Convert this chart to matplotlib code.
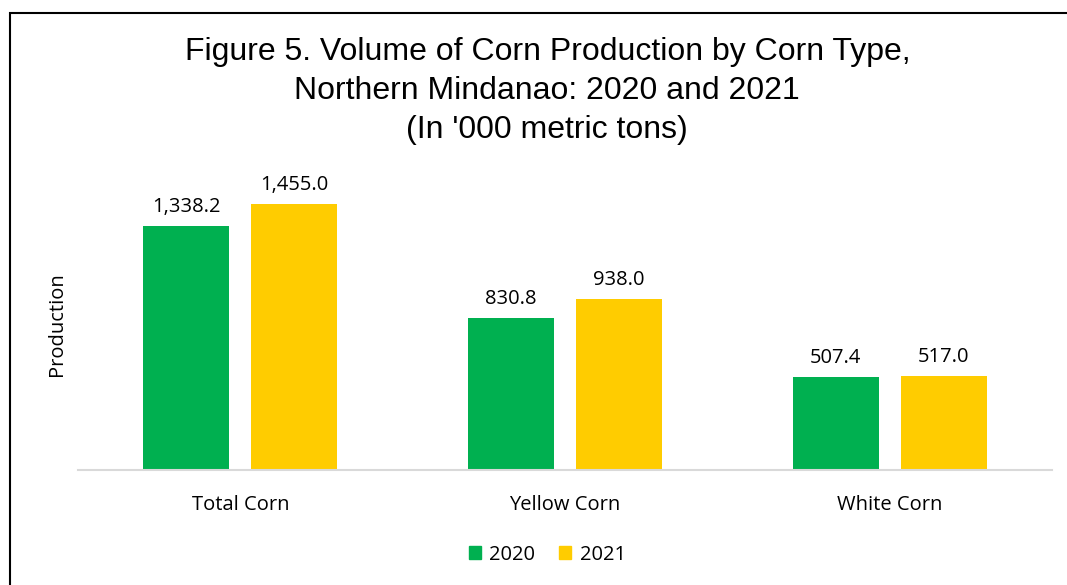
import numpy as np
import matplotlib.pyplot as plt
import matplotlib.patches as mpatches

# データ
categories = ["Total Corn", "Yellow Corn", "White Corn"]
years = ["2020", "2021"]
prod_2020 = [1338.2, 830.8, 507.4]
prod_2021 = [1455.0, 938.0, 517.0]

colors = ["#00B050", "#FFCC00"]
label_font = ["Open Sans", "DejaVu Sans"]

fig = plt.figure(figsize=(10.67, 5.85), dpi=100)
ax = fig.add_axes([0.0731, 0.1966, 0.9129, 0.4991])

x = np.arange(len(categories))
w = 0.265
off = 0.166

for i, (vals, yr) in enumerate(zip([prod_2020, prod_2021], years)):
    pos = x + (-off if i == 0 else off)
    ax.bar(pos, vals, width=w, color=colors[i], label=yr)
    for p, v in zip(pos, vals):
        ax.text(p, v + 50, f"{v:,.1f}", ha="center", va="bottom",
                fontsize=14.5, family=label_font, color="#000000")

ax.set_xlim(-0.5, 2.5)
ax.set_ylim(0, 1600)
ax.set_xticks(x)
ax.set_xticklabels(categories, fontsize=14.5, family=label_font)
ax.tick_params(axis="x", length=0, pad=18)
ax.set_yticks([])
for s in ["top", "right", "left"]:
    ax.spines[s].set_visible(False)
ax.spines["bottom"].set_color("#d9d9d9")
ax.spines["bottom"].set_linewidth(1.5)
ax.set_ylabel("Production", fontsize=14.5, family=label_font, labelpad=8)

fig.text(0.513, 0.937,
         "Figure 5. Volume of Corn Production by Corn Type,\n"
         "Northern Mindanao: 2020 and 2021\n(In '000 metric tons)",
         ha="center", va="top", fontsize=23, family="Liberation Sans",
         linespacing=1.4)

handles = [mpatches.Patch(color=c, label=y) for c, y in zip(colors, years)]
fig.legend(handles=handles, loc="center", bbox_to_anchor=(0.513, 0.052),
           ncol=2, frameon=False, prop={"family": label_font, "size": 14.5},
           handlelength=0.6, handleheight=0.6, handletextpad=0.4,
           columnspacing=1.2)

# 外枠
border = mpatches.Rectangle((10 / 1067, -0.05), 1.1, (585 - 13) / 585 + 0.05,
                            transform=fig.transFigure, fill=False,
                            edgecolor="black", linewidth=1.5)
fig.patches.append(border)

fig.savefig("out.png", dpi=100)
